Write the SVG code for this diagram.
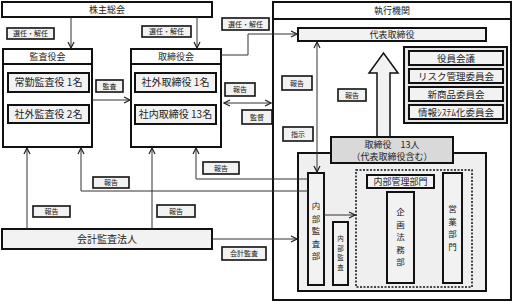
<svg xmlns="http://www.w3.org/2000/svg" width="514" height="304" viewBox="0 0 514 304">
<defs>
<style>
text{font-family:"Noto Sans CJK JP","Noto Sans",sans-serif;fill:#222;text-anchor:middle}
.box{stroke:#111;stroke-width:2}
.w{fill:#fff}
.g{fill:#f2f2f2}
.lbl rect{fill:#f2f2f2;stroke:#111;stroke-width:1.6}
.lbl text{font-size:7px}
.hd{font-size:9px}
.in{font-size:10px}
.cm{font-size:9.5px}
.vt{font-size:8.5px}
.con path{fill:none;stroke:#333;stroke-width:1}
</style>
<marker id="ah" viewBox="0 0 8 8" refX="7" refY="4" markerWidth="8" markerHeight="8" markerUnits="userSpaceOnUse" orient="auto-start-reverse">
<path d="M1,1 L7,4 L1,7" fill="none" stroke="#222" stroke-width="1.2"/>
</marker>
</defs>
<rect width="514" height="304" fill="#fff"/>

<g id="shikko">
<rect class="box w" x="273" y="2" width="238" height="298"/>
<line x1="273" y1="19" x2="511" y2="19" stroke="#111" stroke-width="2"/>
<text class="hd" x="392" y="14">執行機関</text>
</g>

<g id="kabunushi">
<rect class="box w" x="2" y="2" width="210" height="15"/>
<text class="hd" x="107" y="13">株主総会</text>
</g>

<g id="kansayakukai">
<rect class="box w" x="3" y="49" width="89" height="98"/>
<line x1="3" y1="64" x2="92" y2="64" stroke="#111" stroke-width="2"/>
<text class="hd" x="47.5" y="60">監査役会</text>
<g id="jokin"><rect class="box g" x="8" y="73" width="81" height="19"/><text class="in" x="48.5" y="86">常勤監査役  1名</text></g>
<g id="shagai-kansa"><rect class="box g" x="8" y="105" width="81" height="18"/><text class="in" x="48.5" y="118">社外監査役   2名</text></g>
</g>

<g id="torishimariyakukai">
<rect class="box w" x="131" y="49" width="90" height="98"/>
<line x1="131" y1="64" x2="221" y2="64" stroke="#111" stroke-width="2"/>
<text class="hd" x="176" y="60">取締役会</text>
<g id="shagai-tori"><rect class="box g" x="135" y="73" width="81" height="19"/><text class="in" x="175.5" y="86">社外取締役  1名</text></g>
<g id="shanai-tori"><rect class="box g" x="135" y="105" width="81" height="19"/><text class="in" x="175.5" y="118">社内取締役 13名</text></g>
</g>

<g id="daihyo">
<rect class="box g" x="298" y="28" width="188" height="13"/>
<text class="hd" x="392" y="38">代表取締役</text>
</g>

<g id="iinkai">
<rect class="box" x="404" y="47" width="103" height="76" fill="#e6e6e6"/>
<g id="yakuin"><rect class="box g" x="409" y="51" width="94" height="14"/><text class="cm" x="456" y="61.5">役員会議</text></g>
<g id="risk"><rect class="box g" x="409" y="69" width="94" height="14"/><text class="cm" x="456" y="79.5">リスク管理委員会</text></g>
<g id="shinshohin"><rect class="box g" x="409" y="87" width="94" height="14"/><text class="cm" x="456" y="97.5">新商品委員会</text></g>
<g id="joho"><rect class="box g" x="409" y="105" width="94" height="14"/><text class="cm" x="456" y="115.5">情報ｼｽﾃﾑ化委員会</text></g>
</g>

<g id="naibu-area">
<rect class="box" x="298" y="153" width="188" height="138" fill="#efefef"/>
<rect x="356" y="170" width="116" height="117" fill="none" stroke="#111" stroke-width="1.5" stroke-dasharray="2,1.5"/>
</g>

<g id="big-arrow">
<polygon points="377,137 377,73 369,73 383.5,53 398,73 390,73 390,137" fill="#f2f2f2" stroke="#111" stroke-width="1.5"/>
</g>

<g id="torishimariyaku13">
<rect class="box" x="331" y="137" width="122" height="26" fill="#d9d9d9"/>
<text class="hd" x="392" y="148">取締役　13人</text>
<text class="hd" x="392" y="159.5">（代表取締役含む）</text>
</g>

<g id="naibukansabu">
<rect class="box g" x="308" y="173" width="16" height="112"/>
<text class="vt"><tspan x="316" y="209">内</tspan><tspan x="316" y="221.5">部</tspan><tspan x="316" y="234">監</tspan><tspan x="316" y="246.5">査</tspan><tspan x="316" y="259">部</tspan></text>
</g>

<g id="naibukansa">
<rect class="box g" x="333" y="222" width="15" height="63"/>
<text style="font-size:6.5px"><tspan x="340.5" y="241">内</tspan><tspan x="340.5" y="250.5">部</tspan><tspan x="340.5" y="260">監</tspan><tspan x="340.5" y="269.5">査</tspan></text>
</g>

<g id="naibukanri">
<rect class="box g" x="367" y="175" width="67" height="13"/>
<text class="hd" x="400.5" y="185">内部管理部門</text>
</g>

<g id="kikakuhomu">
<rect class="box g" x="387" y="192" width="27" height="91"/>
<text class="vt"><tspan x="400.5" y="215">企</tspan><tspan x="400.5" y="227.5">画</tspan><tspan x="400.5" y="240">法</tspan><tspan x="400.5" y="252.5">務</tspan><tspan x="400.5" y="265">部</tspan></text>
</g>

<g id="eigyo">
<rect class="box g" x="443" y="173" width="19" height="110"/>
<text class="vt"><tspan x="452.5" y="212">営</tspan><tspan x="452.5" y="224.5">業</tspan><tspan x="452.5" y="237">部</tspan><tspan x="452.5" y="249.5">門</tspan></text>
</g>

<g id="kaikei">
<rect class="box g" x="2" y="229" width="210" height="20"/>
<text class="in" x="107" y="243">会計監査法人</text>
</g>

<g id="connectors" class="con">
<path d="M71 17 V48" marker-end="url(#ah)"/>
<path d="M197 17 V48" marker-end="url(#ah)"/>
<path d="M221 55 H248 V34 H297" marker-end="url(#ah)"/>
<path d="M92 100 H130" marker-end="url(#ah)"/>
<path d="M224 103 H271" marker-start="url(#ah)" marker-end="url(#ah)"/>
<path d="M317 42 V172" marker-start="url(#ah)" marker-end="url(#ah)"/>
<path d="M308 179 H196 V148" marker-end="url(#ah)"/>
<path d="M308 191 H81 V148" marker-end="url(#ah)"/>
<path d="M27 229 V148" marker-end="url(#ah)"/>
<path d="M152 229 V148" marker-end="url(#ah)"/>
<path d="M212 239 H297" marker-end="url(#ah)"/>
<path d="M324 215 H355" marker-end="url(#ah)"/>
</g>

<g id="labels">
<g class="lbl"><rect x="7" y="28" width="47" height="11"/><text x="30.5" y="36.3">選任・解任</text></g>
<g class="lbl"><rect x="142" y="26" width="49" height="11"/><text x="166.5" y="34.3">選任・解任</text></g>
<g class="lbl"><rect x="222" y="18" width="47" height="12"/><text x="245.5" y="26.8">選任・解任</text></g>
<g class="lbl"><rect x="96" y="80" width="27" height="12"/><text x="109.5" y="88.8">監査</text></g>
<g class="lbl"><rect x="225" y="83" width="30" height="13"/><text x="240" y="92.3">報告</text></g>
<g class="lbl"><rect x="242" y="110" width="30" height="14"/><text x="257" y="119.8">監督</text></g>
<g class="lbl"><rect x="282" y="76" width="30" height="14"/><text x="297" y="85.8">報告</text></g>
<g class="lbl"><rect x="283" y="127" width="30" height="14"/><text x="298" y="136.8">指示</text></g>
<g class="lbl"><rect x="338" y="89" width="28" height="12"/><text x="352" y="97.8">報告</text></g>
<g class="lbl"><rect x="203" y="162" width="36" height="12"/><text x="221" y="170.8">報告</text></g>
<g class="lbl"><rect x="93" y="177" width="36" height="11"/><text x="111" y="185.3">報告</text></g>
<g class="lbl"><rect x="33" y="206" width="37" height="11"/><text x="51.5" y="214.3">報告</text></g>
<g class="lbl"><rect x="157" y="205" width="38" height="12"/><text x="176" y="213.8">報告</text></g>
<g class="lbl"><rect x="222" y="247" width="44" height="13"/><text x="244" y="256.3">会計監査</text></g>
</g>
</svg>
